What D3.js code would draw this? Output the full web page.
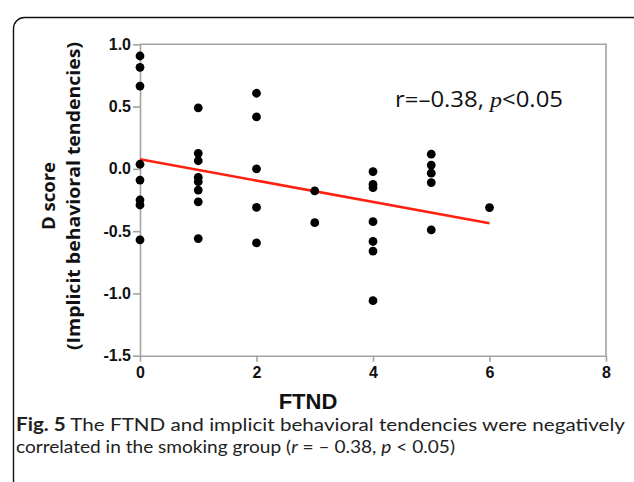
<!DOCTYPE html>
<html>
<head>
<meta charset="utf-8">
<script src="https://cdn.jsdelivr.net/npm/d3@7"></script>
<style>
  body { margin: 0; background: #fff; }
  svg { display: block; }
</style>
</head>
<body>
<div id="chart"></div>
<script>
// Data
const ftnd = [
  0, 0, 0, 0, 0, 0, 0, 0,
  1, 1, 1, 1, 1, 1, 1, 1,
  2, 2, 2, 2, 2,
  3, 3,
  4, 4, 4, 4, 4, 4, 4,
  5, 5, 5, 5, 5,
  6
];
const dScore = [
  0.906, 0.815, 0.665, 0.037, -0.09, -0.25, -0.29, -0.57,
  0.49, 0.125, 0.065, -0.068, -0.103, -0.17, -0.265, -0.56,
  0.607, 0.417, 0.0, -0.31, -0.595,
  -0.177, -0.432,
  -0.022, -0.124, -0.151, -0.424, -0.583, -0.66, -1.058,
  0.118, 0.03, -0.035, -0.11, -0.49,
  -0.311
];
const fitX = [0, 6];
const fitY = [0.077, -0.437];
const xTicks = [0, 2, 4, 6, 8];
const yTicks = [1.0, 0.5, 0.0, -0.5, -1.0, -1.5];

function buildChart() {
  const width = 634;
  const height = 482;

  const svg = d3.select('#chart').append('svg')
    .attr('width', width)
    .attr('height', height);

  // Frame
  svg.append('rect')
    .attr('x', 13.5)
    .attr('y', 17.5)
    .attr('width', 640)
    .attr('height', 500)
    .attr('rx', 11)
    .attr('fill', 'none')
    .attr('stroke', '#111')
    .attr('stroke-width', 1.4);

  // Scales
  const xScale = d3.scaleLinear().domain([0, 8]).range([140, 606]);
  const yScale = d3.scaleLinear().domain([-1.5, 1]).range([355.7, 44.3]);

  const axisColor = '#a3a3a3';

  // Box (top and right)
  svg.append('path')
    .attr('d', `M${xScale(0)},${yScale(1)}H${xScale(8)}V${yScale(-1.5)}`)
    .attr('fill', 'none')
    .attr('stroke', axisColor)
    .attr('stroke-width', 1.6);

  // X axis
  const xAxis = d3.axisBottom(xScale).tickValues(xTicks).tickSize(6).tickSizeOuter(0).tickPadding(5);
  const gx = svg.append('g')
    .attr('transform', `translate(0, ${yScale(-1.5)})`)
    .call(xAxis);

  // Y axis
  const yAxis = d3.axisLeft(yScale).tickValues(yTicks).tickSize(7).tickSizeOuter(0).tickPadding(2)
    .tickFormat((d) => d3.format('.1f')(d).replace('−', '-'));
  const gy = svg.append('g')
    .attr('transform', `translate(${xScale(0)}, 0)`)
    .call(yAxis);

  [gx, gy].forEach((g) => {
    g.select('.domain').attr('stroke', axisColor).attr('stroke-width', 1.6);
    g.selectAll('.tick line').attr('stroke', axisColor).attr('stroke-width', 1.6);
    g.selectAll('.tick text')
      .attr('fill', '#111')
      .style('font-family', 'Liberation Sans, Arial, sans-serif')
      .style('font-weight', 'bold')
      .style('font-size', '16px');
  });

  // Regression line
  svg.append('line')
    .attr('x1', xScale(fitX[0]))
    .attr('y1', yScale(fitY[0]))
    .attr('x2', xScale(fitX[1]))
    .attr('y2', yScale(fitY[1]))
    .attr('stroke', '#ff2010')
    .attr('stroke-width', 2.6);

  // Points
  svg.append('g')
    .selectAll('circle')
    .data(ftnd)
    .enter()
    .append('circle')
    .attr('cx', (d) => xScale(d))
    .attr('cy', (d, i) => yScale(dScore[i]))
    .attr('r', 4.4)
    .attr('fill', '#000');

  // Annotation
  const note = svg.append('text')
    .attr('x', 395)
    .attr('y', 107)
    .attr('textLength', 168)
    .attr('lengthAdjust', 'spacingAndGlyphs')
    .style('font-family', 'Open Sans, sans-serif')
    .style('font-size', '21px')
    .attr('fill', '#111');
  note.append('tspan').text('r=–0.38, ');
  note.append('tspan').style('font-style', 'italic').style('font-family', 'Liberation Serif, serif').text('p');
  note.append('tspan').text('<0.05');

  // Axis titles
  svg.append('text')
    .attr('x', 308)
    .attr('y', 409)
    .attr('text-anchor', 'middle')
    .style('font-family', 'Liberation Sans, Arial, sans-serif')
    .style('font-weight', 'bold')
    .style('font-size', '22px')
    .attr('fill', '#111')
    .text('FTND');

  const yTitle = svg.append('g')
    .attr('transform', 'translate(0, 196) rotate(-90)')
    .style('font-family', 'Open Sans, sans-serif')
    .style('font-weight', 'bold')
    .style('font-size', '18px')
    .attr('fill', '#111');
  yTitle.append('text').attr('x', -34).attr('y', 55)
    .attr('textLength', 68).attr('lengthAdjust', 'spacingAndGlyphs')
    .text('D score');
  yTitle.append('text').attr('x', -154).attr('y', 80)
    .attr('textLength', 308).attr('lengthAdjust', 'spacingAndGlyphs')
    .text('(Implicit behavioral tendencies)');

  // Caption
  const cap = svg.append('g')
    .style('font-family', 'Lato, sans-serif')
    .style('font-size', '18px')
    .attr('fill', '#222');
  const line1 = cap.append('text').attr('x', 16).attr('y', 431)
    .attr('textLength', 609).attr('lengthAdjust', 'spacingAndGlyphs');
  line1.append('tspan').style('font-weight', 'bold').text('Fig. 5');
  line1.append('tspan').text(' The FTND and implicit behavioral tendencies were negatively');
  const line2 = cap.append('text').attr('x', 16).attr('y', 453)
    .attr('textLength', 439).attr('lengthAdjust', 'spacingAndGlyphs');
  line2.append('tspan').text('correlated in the smoking group (');
  line2.append('tspan').style('font-style', 'italic').text('r');
  line2.append('tspan').text(' = – 0.38, ');
  line2.append('tspan').style('font-style', 'italic').text('p');
  line2.append('tspan').text(' < 0.05)');
}

buildChart();
</script>
</body>
</html>
